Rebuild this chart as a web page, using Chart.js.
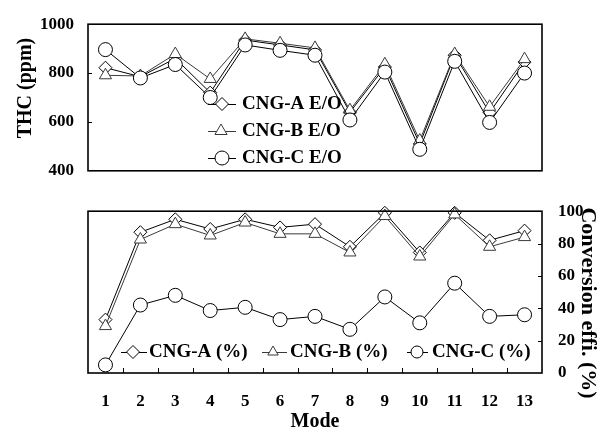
<!DOCTYPE html>
<html><head><meta charset="utf-8">
<script src="https://cdn.jsdelivr.net/npm/chart.js@4/dist/chart.umd.min.js"></script>
<style>
html,body{margin:0;padding:0;background:#fff;}
#wrap{position:relative;width:605px;height:432px;overflow:hidden;}
canvas{position:absolute;left:0;}
#c1{top:0;}
#c2{top:185px;}
</style></head><body>
<div id="wrap"><canvas id="c1" width="605" height="195"></canvas><canvas id="c2" width="605" height="247"></canvas></div>
<script>
const modes = ['1','2','3','4','5','6','7','8','9','10','11','12','13'];
const thcA = [822, 785, 860, 720, 935, 915, 895, 640, 825, 510, 873, 638, 845];
const thcB = [791, 788, 878, 776, 940, 922, 903, 648, 836, 524, 878, 662, 857];
const thcC = [896, 780, 835, 700, 915, 893, 873, 608, 804, 488, 848, 598, 800];
const effA = [33, 87, 95, 89, 95, 90, 92, 78, 99, 74.5, 99, 82, 88];
const effB = [29, 82.5, 92, 85, 93, 86, 86, 74.5, 97, 72, 98, 78, 84];
const effC = [5, 42, 48, 38.6, 40.6, 33, 35, 27, 47, 31, 55.5, 35, 36];
const thcNames = ['CNG-A E/O', 'CNG-B E/O', 'CNG-C E/O'];
const effNames = ['CNG-A (%)', 'CNG-B (%)', 'CNG-C (%)'];
const thcTicks = [400, 600, 800, 1000];
const effTicks = [0, 20, 40, 60, 80, 100];
const thcTitle = 'THC (ppm)';
const effTitle = 'Conversion effi. (%)';
const modeTitle = 'Mode';

const FONT = '"Liberation Serif", "Times New Roman", serif';
const STYLES = ['rectRot', 'triangle', 'circle'];
const RADII = [6.5, 7, 7];
const COLORS = ['#000', '#3a3a3a', '#000'];

function ds(label, data, i) {
  return {
    label, data,
    borderColor: COLORS[i], borderWidth: 1,
    pointStyle: STYLES[i], pointRadius: RADII[i],
    pointBorderColor: COLORS[i], pointBackgroundColor: '#fff', pointBorderWidth: 1,
    tension: 0, fill: false, clip: false, order: 3 - i
  };
}

function drawMarker(ctx, i, r, x, y) {
  ctx.save();
  ctx.lineWidth = 1;
  ctx.strokeStyle = COLORS[i];
  ctx.fillStyle = '#fff';
  Chart.helpers.drawPoint(ctx, {pointStyle: STYLES[i], radius: r, borderWidth: 1, rotation: 0}, x, y);
  ctx.restore();
}

const panelPlugin = {
  id: 'panel',
  afterDatasetsDraw(chart, args, o) {
    const ctx = chart.ctx;
    const a = chart.chartArea;
    ctx.save();
    // frame
    ctx.strokeStyle = '#000';
    ctx.lineWidth = 1.6;
    ctx.strokeRect(a.left, a.top, a.right - a.left, a.bottom - a.top);
    ctx.lineWidth = 1;
    ctx.beginPath();
    const y = chart.scales.y;
    if (o.leftTicks) {
      o.leftTicks.forEach(v => { const p = Math.round(y.getPixelForValue(v)) + 0.5; ctx.moveTo(a.left, p); ctx.lineTo(a.left + 4, p); });
    }
    if (o.rightTicks) {
      o.rightTicks.forEach(v => { const p = Math.round(y.getPixelForValue(v)) + 0.5; ctx.moveTo(a.right, p); ctx.lineTo(a.right - 4, p); });
    }
    if (o.bottomTicks) {
      const x = chart.scales.x;
      for (let i = 0; i < modes.length - 1; i++) {
        const p = Math.round((x.getPixelForValue(i) + x.getPixelForValue(i + 1)) / 2) + 0.5;
        ctx.moveTo(p, a.bottom); ctx.lineTo(p, a.bottom - 5);
      }
    }
    ctx.stroke();
    // legend
    ctx.font = 'bold 19px ' + FONT;
    ctx.fillStyle = '#000';
    ctx.textBaseline = 'middle';
    ctx.textAlign = 'left';
    o.legend.forEach((it, i) => {
      ctx.strokeStyle = COLORS[i];
      ctx.lineWidth = 1;
      ctx.beginPath();
      ctx.moveTo(it.x0, it.y + 0.5); ctx.lineTo(it.x1, it.y + 0.5);
      ctx.stroke();
      drawMarker(ctx, i, it.r, it.mx, it.y);
      ctx.fillStyle = '#000';
      ctx.fillText(chart.data.datasets[i].label, it.tx, it.y);
    });
    // vertical axis title
    if (o.vtitle) {
      ctx.font = 'bold ' + o.vtitle.size + 'px ' + FONT;
      ctx.textAlign = 'center';
      ctx.textBaseline = 'middle';
      ctx.translate(o.vtitle.x, o.vtitle.y);
      ctx.rotate(o.vtitle.rot);
      ctx.fillText(o.vtitle.text, 0, 0);
    }
    ctx.restore();
  }
};

const tickFont = {family: FONT, size: 17, weight: 'bold'};

new Chart(document.getElementById('c1'), {
  type: 'line',
  data: {labels: modes, datasets: [ds(thcNames[0], thcA, 0), ds(thcNames[1], thcB, 1), ds(thcNames[2], thcC, 2)]},
  options: {
    responsive: false, animation: false, devicePixelRatio: 1,
    layout: {padding: {left: 0, right: 63, top: 13, bottom: 16}},
    plugins: {
      legend: {display: false}, tooltip: {enabled: false},
      panel: {
        leftTicks: [600, 800],
        legend: [
          {x0: 208, x1: 236, mx: 222, y: 104, r: 6.5, tx: 242},
          {x0: 208, x1: 236, mx: 221, y: 131, r: 7, tx: 242},
          {x0: 208, x1: 236, mx: 222, y: 158, r: 7, tx: 242}
        ],
        vtitle: {text: thcTitle, size: 20, x: 26, y: 88, rot: -Math.PI / 2}
      }
    },
    scales: {
      x: {type: 'category', offset: true, display: false},
      y: {
        min: 400, max: 1000,
        afterBuildTicks: s => { s.ticks = thcTicks.map(v => ({value: v})); },
        afterFit: s => { s.width = 88; },
        grid: {display: false, drawTicks: false}, border: {display: false},
        ticks: {font: tickFont, color: '#000', padding: 14, callback: v => String(v)}
      }
    }
  },
  plugins: [panelPlugin]
});

new Chart(document.getElementById('c2'), {
  type: 'line',
  data: {labels: modes, datasets: [ds(effNames[0], effA, 0), ds(effNames[1], effB, 1), ds(effNames[2], effC, 2)]},
  options: {
    responsive: false, animation: false, devicePixelRatio: 1,
    layout: {padding: {left: 88, right: 0, top: 18, bottom: 0}},
    plugins: {
      legend: {display: false}, tooltip: {enabled: false},
      panel: {
        rightTicks: [20, 40, 60, 80],
        bottomTicks: true,
        legend: [
          {x0: 121, x1: 147, mx: 133, y: 167, r: 6.5, tx: 149},
          {x0: 262, x1: 287, mx: 273, y: 167, r: 6, tx: 290},
          {x0: 407, x1: 428, mx: 417, y: 167, r: 6, tx: 432}
        ],
        vtitle: {text: effTitle, size: 22, x: 588, y: 118, rot: Math.PI / 2}
      }
    },
    scales: {
      x: {
        type: 'category', offset: true,
        afterFit: s => { s.height = 59; },
        grid: {display: false, drawTicks: false}, border: {display: false},
        ticks: {font: tickFont, color: '#000', padding: 18, maxRotation: 0, autoSkip: false},
        title: {display: true, text: modeTitle, color: '#000', font: {family: FONT, size: 20, weight: 'bold', lineHeight: 1}, padding: {top: 0, bottom: 0}}
      },
      y: {
        position: 'right', min: 0, max: 100,
        afterBuildTicks: s => { s.ticks = effTicks.map(v => ({value: v})); },
        afterFit: s => { s.width = 63; },
        grid: {display: false, drawTicks: false}, border: {display: false},
        ticks: {font: tickFont, color: '#000', padding: 16, callback: v => String(v)}
      }
    }
  },
  plugins: [panelPlugin]
});
</script>
</body></html>
